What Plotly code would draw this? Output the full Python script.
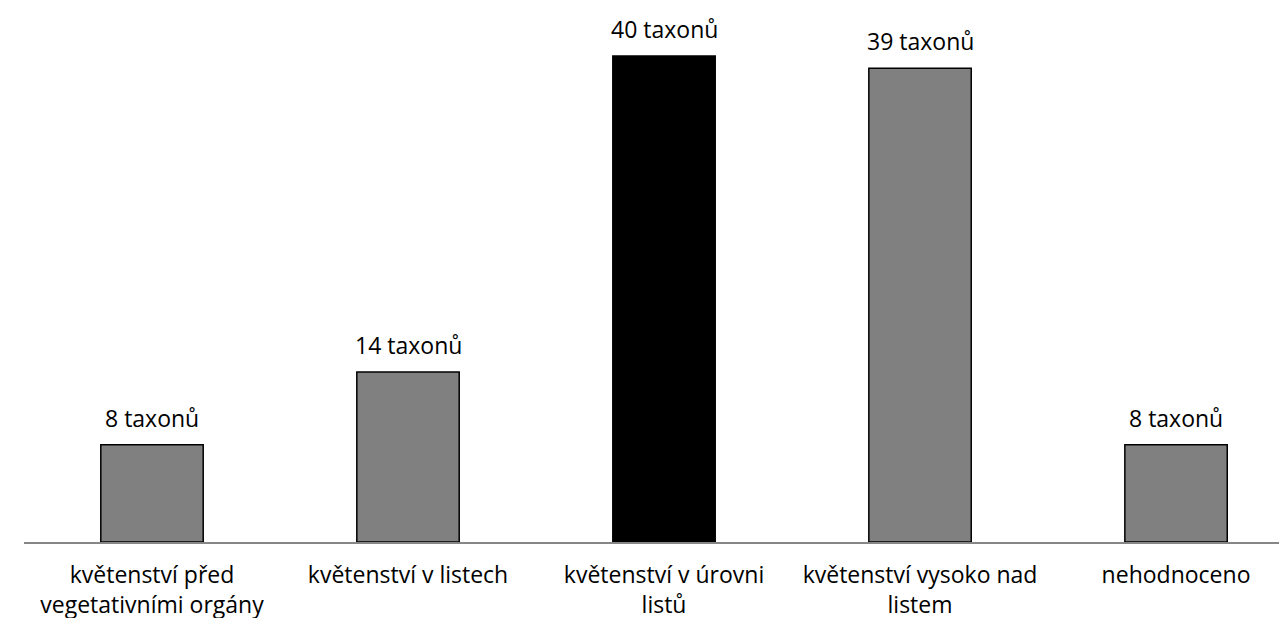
import plotly.graph_objects as go

categories = [
    "květenství před<br>vegetativními orgány",
    "květenství v listech",
    "květenství v úrovni<br>listů",
    "květenství vysoko nad<br>listem",
    "nehodnoceno",
]
values = [8, 14, 40, 39, 8]
labels = ["8 taxonů", "14 taxonů", "40 taxonů", "39 taxonů", "8 taxonů"]
colors = ["#808080", "#808080", "#000000", "#808080", "#808080"]

FONT = "Open Sans, Noto Sans, sans-serif"

fig = go.Figure(go.Bar(
    x=list(range(len(categories))),
    y=values,
    width=0.4,
    marker=dict(color=colors, line=dict(color="#000000", width=1.5)),
    hoverinfo="skip",
))

# value labels above the bars
for i, (v, t) in enumerate(zip(values, labels)):
    fig.add_annotation(x=i, y=v, text=t, showarrow=False, yanchor="bottom",
                       yshift=9, font=dict(family=FONT, size=23, color="#000000"))

fig.update_xaxes(
    tickvals=list(range(len(categories))), ticktext=categories,
    range=[-0.5, 4.41], showgrid=False, zeroline=False,
    showline=True, linecolor="#868686", linewidth=1.5,
    ticks="", ticklabelstandoff=12,
    tickfont=dict(family=FONT, size=23, color="#000000"),
)
fig.update_yaxes(range=[0, 43.95], visible=False, showgrid=False, zeroline=False)

fig.update_layout(
    width=1287, height=618,
    margin=dict(l=16, r=14, t=0, b=84),
    plot_bgcolor="white", paper_bgcolor="white",
    showlegend=False,
)

fig.write_html("out.html")
